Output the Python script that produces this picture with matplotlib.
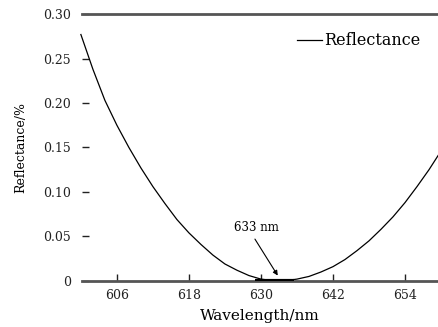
import matplotlib
matplotlib.use("Agg")
import matplotlib.pyplot as plt

# valores
wavelength = [600, 602, 604, 606, 608, 610, 612, 614, 616, 618, 620, 622, 624,
              626, 628, 630, 632, 633, 634, 636, 638, 640, 642, 644, 646, 648,
              650, 652, 654, 656, 658, 660]
reflectance = [0.277, 0.238, 0.203, 0.175, 0.150, 0.127, 0.106, 0.087, 0.069,
               0.054, 0.041, 0.029, 0.019, 0.012, 0.006, 0.002, 0.0003, 0.0,
               0.0002, 0.002, 0.005, 0.010, 0.016, 0.024, 0.034, 0.045, 0.058,
               0.072, 0.088, 0.106, 0.125, 0.146]
band = [629, 635.5]
xticks = [606, 618, 630, 642, 654]
yticks = [0, 0.05, 0.10, 0.15, 0.20, 0.25, 0.30]
ytick_labels = ["0", "0.05", "0.10", "0.15", "0.20", "0.25", "0.30"]

plt.rcParams['font.family'] = 'DejaVu Serif'

fig = plt.figure(figsize=(4.38, 3.27), dpi=100)
ax = fig.add_axes([0.187, 0.141, 0.813, 0.816])

ax.plot(wavelength, reflectance, color='black', lw=0.9, label='Reflectance', clip_on=False)
ax.plot(band, [0, 0], color='black', lw=3, solid_capstyle='butt', zorder=5)

# anotacao do minimo
ax.text(629.3, 0.060, '633 nm', fontsize=8.5, ha='center', va='center')
ax.annotate('', xy=(632.8, 0.006), xytext=(629.0, 0.047),
            arrowprops=dict(arrowstyle='-|>', color='black', lw=0.8,
                            mutation_scale=7, shrinkA=0, shrinkB=0))

ax.set_xlim(600.17, 659.5)
ax.set_ylim(0, 0.30)
ax.set_xticks(xticks)
ax.set_yticks(yticks)
ax.set_yticklabels(ytick_labels)
ax.tick_params(axis='both', direction='in', length=5, width=1, labelsize=9, colors='#222222')
ax.tick_params(axis='x', pad=6)
ax.tick_params(axis='y', pad=8)

for s in ['left', 'right']:
    ax.spines[s].set_visible(False)
for s in ['top', 'bottom']:
    ax.spines[s].set_linewidth(2)
    ax.spines[s].set_color('#555555')

ax.set_xlabel('Wavelength/nm', fontsize=11, labelpad=5)
ax.set_ylabel('Reflectance/%', fontsize=9, labelpad=11)

ax.legend(loc='upper right', frameon=False, fontsize=11.5, handlelength=1.6,
          handletextpad=0.1, bbox_to_anchor=(0.99, 0.985))

fig.savefig('out.png', dpi=100)
